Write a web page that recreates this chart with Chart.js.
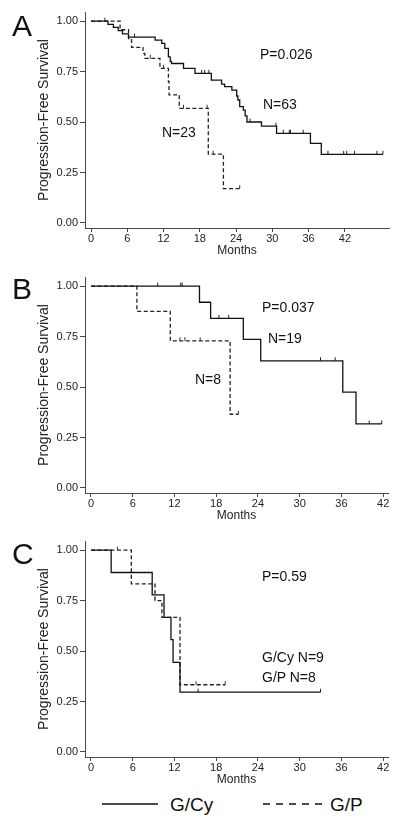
<!DOCTYPE html>
<html>
<head>
<meta charset="utf-8">
<script src="https://cdn.jsdelivr.net/npm/chart.js@4.4.1/dist/chart.umd.min.js"></script>
<style>
  html, body { margin: 0; padding: 0; background: #fff; }
  body { width: 400px; height: 825px; position: relative; overflow: hidden; font-family: "Liberation Sans", Arial, sans-serif; color: #111; }
  canvas { position: absolute; left: 0; }
  .t { position: absolute; line-height: 1; white-space: nowrap; }
  .letter { font-size: 30px; }
  .ann { font-size: 14px; }
  .leg { font-size: 19px; }
</style>
</head>
<body>
<canvas id="pa" width="400" height="264" style="top:0px"></canvas>
<canvas id="pb" width="400" height="264" style="top:265px"></canvas>
<canvas id="pc" width="400" height="264" style="top:529px"></canvas>

<div class="t letter" style="left:12px;top:11px">A</div>
<div class="t letter" style="left:12px;top:274px">B</div>
<div class="t letter" style="left:12px;top:539px">C</div>

<div class="t ann" style="left:260px;top:47px">P=0.026</div>
<div class="t ann" style="left:263px;top:97px">N=63</div>
<div class="t ann" style="left:162px;top:125px">N=23</div>

<div class="t ann" style="left:262px;top:300px">P=0.037</div>
<div class="t ann" style="left:268px;top:331px">N=19</div>
<div class="t ann" style="left:195px;top:372px">N=8</div>

<div class="t ann" style="left:262px;top:569px">P=0.59</div>
<div class="t ann" style="left:262px;top:650px">G/Cy N=9</div>
<div class="t ann" style="left:262px;top:670px">G/P N=8</div>

<svg style="position:absolute;left:0;top:795px" width="400" height="20">
  <line x1="102" y1="9" x2="158" y2="9" stroke="#111" stroke-width="1.5"/>
  <line x1="263" y1="9" x2="322" y2="9" stroke="#111" stroke-width="1.5" stroke-dasharray="7,6"/>
</svg>
<div class="t leg" style="left:170px;top:795px">G/Cy</div>
<div class="t leg" style="left:330px;top:795px">G/P</div>

<script>
// ---- shared ticks ----
const monthTicks = [0, 6, 12, 18, 24, 30, 36, 42];
const survTicks = [0, 0.25, 0.5, 0.75, 1];
const seriesNames = ["G/Cy", "G/P"];

// ---- Panel A ----
const aCyTime = [0, 2.8, 3.7, 4.5, 5.2, 6.2, 10.6, 11.7, 12.2, 12.8, 13.1, 13.3, 15.3, 17.2, 19.9, 21.6, 22.1, 23.3, 24.1, 24.3, 24.6, 25.2, 25.5, 25.8, 28.2, 30.7, 36.3, 38.1, 48.3];
const aCySurv = [1, 0.984, 0.969, 0.953, 0.937, 0.921, 0.906, 0.89, 0.865, 0.823, 0.80, 0.79, 0.766, 0.741, 0.708, 0.688, 0.675, 0.658, 0.629, 0.609, 0.576, 0.559, 0.53, 0.50, 0.48, 0.444, 0.394, 0.34, 0.34];
const aCyCensor = [7.2, 18.3, 18.8, 19.5, 26.3, 30.6, 31.8, 32.8, 33.0, 35.1, 39.2, 41.8, 42.3, 43.6, 47.3, 48.3];
const aPTime = [0, 4.8, 6.2, 6.7, 8.6, 8.9, 11.4, 12.8, 12.9, 14.6, 19.4, 21.9, 24.6];
const aPSurv = [1, 0.957, 0.913, 0.87, 0.84, 0.815, 0.766, 0.70, 0.634, 0.568, 0.341, 0.17, 0.17];
const aPCensor = [2.3, 9.8, 12.0, 15.3, 19.2, 20.2, 24.6];

// ---- Panel B ----
const bCyTime = [0, 15.6, 17.2, 21.9, 24.4, 36.2, 38.1, 41.8];
const bCySurv = [1, 0.92, 0.84, 0.736, 0.63, 0.475, 0.317, 0.317];
const bCyCensor = [9.6, 12.9, 13.1, 18.4, 19.8, 33.0, 35.1, 40.0, 41.8];
const bPTime = [0, 6.6, 11.4, 20.0, 21.2];
const bPSurv = [1, 0.875, 0.729, 0.365, 0.365];
const bPCensor = [12.8, 13.5, 15.7, 21.2];

// ---- Panel C ----
const cCyTime = [0, 2.9, 8.8, 10.5, 11.5, 11.8, 12.8, 33.0];
const cCySurv = [1, 0.889, 0.778, 0.667, 0.556, 0.444, 0.296, 0.296];
const cCyCensor = [15.4, 33.0];
const cPTime = [0, 5.8, 9.2, 10.2, 12.8, 19.3];
const cPSurv = [1, 0.833, 0.75, 0.667, 0.333, 0.333];
const cPCensor = [3.8, 15.1, 19.3];

function stepPoints(t, s) { return t.map((x, i) => ({ x: x, y: s[i] })); }
function survAt(t, s, x) { let v = s[0]; for (let i = 0; i < t.length; i++) { if (t[i] <= x) v = s[i]; } return v; }
function censorPoints(t, s, c) { return c.map(x => ({ x: x, y: survAt(t, s, x) })); }

const FONT = "'Liberation Sans', Arial, sans-serif";
const AX = '#4a4a4a';

function panel(id, cy, gp, xmin, xmax, padRight) {
  const ctx = document.getElementById(id).getContext('2d');
  const lineBase = { stepped: true, pointRadius: 0, borderWidth: 1.3, fill: false, tension: 0 };
  const censBase = { type: 'scatter', showLine: false, pointStyle: 'dash', rotation: -90, pointRadius: 3.5, pointBorderWidth: 1, borderWidth: 1 };
  new Chart(ctx, {
    type: 'line',
    data: {
      datasets: [
        Object.assign({ label: seriesNames[0], data: stepPoints(cy[0], cy[1]), borderColor: '#111' }, lineBase),
        Object.assign({ label: seriesNames[1], data: stepPoints(gp[0], gp[1]), borderColor: '#222', borderDash: [4, 2.5] }, lineBase),
        Object.assign({ label: seriesNames[0] + ' censored', data: censorPoints(cy[0], cy[1], cy[2]), borderColor: '#222', pointBorderColor: '#222' }, censBase),
        Object.assign({ label: seriesNames[1] + ' censored', data: censorPoints(gp[0], gp[1], gp[2]), borderColor: '#333', pointBorderColor: '#333' }, censBase)
      ]
    },
    options: {
      responsive: false,
      animation: false,
      events: [],
      layout: { padding: { top: 12, right: padRight, left: 0, bottom: 0 } },
      plugins: { legend: { display: false }, tooltip: { enabled: false } },
      scales: {
        x: {
          type: 'linear', min: xmin, max: xmax,
          afterBuildTicks: s => { s.ticks = monthTicks.map(v => ({ value: v })); },
          ticks: { font: { family: FONT, size: 11 }, color: '#222', padding: 0, maxRotation: 0, autoSkip: false },
          grid: { drawOnChartArea: false, drawTicks: true, tickLength: 4, color: AX, tickWidth: 1 },
          border: { display: true, color: AX, width: 1 },
          title: { display: true, text: 'Months', font: { family: FONT, size: 12 }, color: '#222', padding: { top: 0, bottom: 6 } },
          afterFit: s => { s.height = 36; }
        },
        y: {
          type: 'linear', min: -0.025, max: 1.045,
          afterBuildTicks: s => { s.ticks = survTicks.map(v => ({ value: v })); },
          ticks: { font: { family: FONT, size: 11 }, color: '#222', padding: 2, callback: v => Number(v).toFixed(2) },
          grid: { drawOnChartArea: false, drawTicks: true, tickLength: 5, color: AX, tickWidth: 1 },
          border: { display: true, color: AX, width: 1 },
          title: { display: true, text: 'Progression-Free Survival', font: { family: FONT, size: 14 }, color: '#222', padding: { top: 36, bottom: 0 } },
          afterFit: s => { s.width = 85; }
        }
      }
    }
  });
}

panel('pa', [aCyTime, aCySurv, aCyCensor], [aPTime, aPSurv, aPCensor], -1, 49.3, 11);
panel('pb', [bCyTime, bCySurv, bCyCensor], [bPTime, bPSurv, bPCensor], -0.86, 42.7, 12);
panel('pc', [cCyTime, cCySurv, cCyCensor], [cPTime, cPSurv, cPCensor], -0.86, 42.7, 12);
</script>
</body>
</html>
